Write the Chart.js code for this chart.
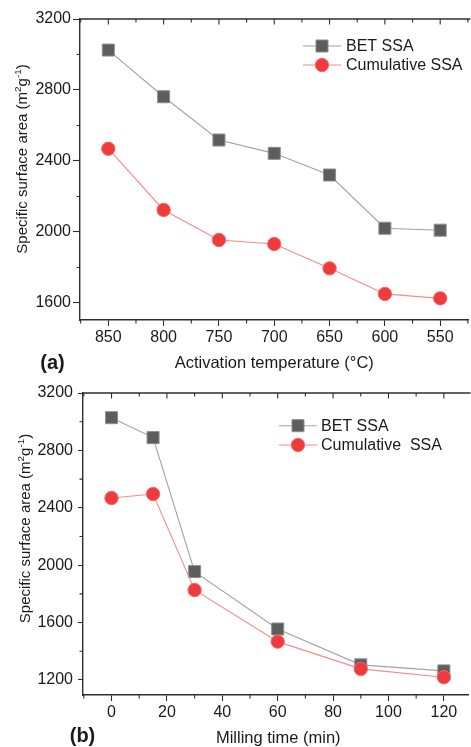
<!DOCTYPE html>
<html>
<head>
<meta charset="utf-8">
<script src="https://cdn.jsdelivr.net/npm/chart.js@4.4.0/dist/chart.umd.min.js"></script>
<style>
html,body{margin:0;padding:0;background:#fff;overflow:hidden;width:471px;height:747px;}
.wrap{position:absolute;left:0;width:478px;}
canvas{display:block;}
</style>
</head>
<body>
<div class="wrap" style="top:0;height:375px"><canvas id="ca" width="478" height="375"></canvas></div>
<div class="wrap" style="top:375px;height:372px"><canvas id="cb" width="478" height="372"></canvas></div>
<script>
// ---- Data: panel (a) ----
const tempCategories = [850, 800, 750, 700, 650, 600, 550];
const betSSA_temp = [3025, 2762, 2518, 2443, 2321, 2021, 2010];
const cumSSA_temp = [2469, 2124, 1955, 1932, 1795, 1651, 1626];
const tempXTicks = [850, 800, 750, 700, 650, 600, 550];
const tempYTicks = [1600, 2000, 2400, 2800, 3200];

// ---- Data: panel (b) ----
const millTimes = [0, 15, 30, 60, 90, 120];
const betSSA_mill = [3028, 2889, 1955, 1555, 1305, 1263];
const cumSSA_mill = [2468, 2496, 1827, 1467, 1277, 1219];
const millXTicks = [0, 20, 40, 60, 80, 100, 120];
const millYTicks = [1200, 1600, 2000, 2400, 2800, 3200];

// ---- Text ----
const labelsA = ['BET SSA', 'Cumulative SSA'];
const labelsB = ['BET SSA', 'Cumulative  SSA'];
const xTitleA = 'Activation temperature (\u00B0C)';
const xTitleB = 'Milling time (min)';
const yTitleParts = [['Specific surface area (m', 0], ['2', 1], ['g', 0], ['-1', 1], [')', 0]];

const FONT = "'Liberation Sans', Arial, Helvetica, sans-serif";
const TEXT = '#1a1a1a';
const AXIS = '#2e2e2e';

const betStyle = {
  pointStyle: 'rect', pointRadius: 8.5, pointBackgroundColor: '#5d5d5d',
  pointBorderColor: '#8e8e8e', pointBorderWidth: 1,
  borderColor: '#a2a2a2', borderWidth: 1.1, order: 1
};
const cumStyle = {
  pointStyle: 'circle', pointRadius: 6.7, pointBackgroundColor: '#ef3b3d',
  pointBorderColor: '#f36a6a', pointBorderWidth: 1,
  borderColor: '#f58c85', borderWidth: 1.1, order: 0
};

function toPts(xs, ys) { return xs.map((x, i) => ({x: x, y: ys[i]})); }

const decor = {
  id: 'decor',
  afterDraw(chart, args, o) {
    const ctx = chart.ctx, a = chart.chartArea;
    const xs = chart.scales.x, ys = chart.scales.y;
    ctx.save();
    // top frame line
    ctx.strokeStyle = AXIS; ctx.lineWidth = 1.4;
    ctx.beginPath(); ctx.moveTo(a.left, a.top); ctx.lineTo(a.right + 2, a.top); ctx.stroke();
    // minor ticks and top inward ticks
    const minorVals = (s, step, majors) => {
      const out = []; const lo = Math.min(s.min, s.max), hi = Math.max(s.min, s.max);
      for (let v = Math.ceil(lo / step) * step; v <= hi; v += step) if (!majors.includes(v)) out.push(v);
      return out;
    };
    const xMinor = minorVals(xs, o.xMinor, o.xMajor);
    const yMinor = minorVals(ys, o.yMinor, o.yMajor);
    ctx.lineWidth = 1.1;
    ctx.beginPath();
    xMinor.forEach(v => {
      const p = xs.getPixelForValue(v);
      ctx.moveTo(p, a.bottom); ctx.lineTo(p, a.bottom + o.minorLen);
      ctx.moveTo(p, a.top); ctx.lineTo(p, a.top + o.minorLen);
    });
    o.xMajor.forEach(v => {
      const p = xs.getPixelForValue(v);
      ctx.moveTo(p, a.top); ctx.lineTo(p, a.top + o.majorLen);
    });
    yMinor.forEach(v => {
      const p = ys.getPixelForValue(v);
      ctx.moveTo(a.left, p); ctx.lineTo(a.left - o.minorLen, p);
    });
    ctx.stroke();

    // x axis title
    ctx.fillStyle = TEXT;
    ctx.font = '16.5px ' + FONT;
    ctx.textAlign = 'center'; ctx.textBaseline = 'middle';
    ctx.fillText(o.xTitle, (a.left + a.right) / 2 + o.xTitleDx, a.bottom + o.xTitleDy);

    // y axis title with superscripts
    const size = 15;
    ctx.save();
    ctx.translate(o.yTitleX, (a.top + a.bottom) / 2 + o.yTitleDy);
    ctx.rotate(-Math.PI / 2);
    ctx.textAlign = 'left'; ctx.textBaseline = 'alphabetic';
    let total = 0;
    yTitleParts.forEach(([t, s]) => { ctx.font = (s ? size * 0.66 : size) + 'px ' + FONT; total += ctx.measureText(t).width; });
    let tx = -total / 2; const base = size * 0.36;
    yTitleParts.forEach(([t, s]) => {
      ctx.font = (s ? size * 0.66 : size) + 'px ' + FONT;
      ctx.fillText(t, tx, s ? base - size * 0.42 : base);
      tx += ctx.measureText(t).width;
    });
    ctx.restore();

    // panel label
    ctx.font = 'bold 20px ' + FONT;
    ctx.textAlign = 'center'; ctx.textBaseline = 'middle';
    ctx.fillText(o.panel, o.panelX, o.panelY);

    // legend
    const L = o.legend;
    chart.data.datasets.forEach((ds, i) => {
      const y = L.y + i * L.gap;
      ctx.strokeStyle = ds.borderColor; ctx.lineWidth = ds.borderWidth;
      ctx.beginPath(); ctx.moveTo(L.x0, y); ctx.lineTo(L.x1, y); ctx.stroke();
      const mx = (L.x0 + L.x1) / 2;
      ctx.fillStyle = ds.pointBackgroundColor; ctx.strokeStyle = ds.pointBorderColor; ctx.lineWidth = ds.pointBorderWidth;
      Chart.helpers.drawPoint(ctx, {pointStyle: ds.pointStyle, radius: ds.pointRadius, borderWidth: ds.pointBorderWidth, rotation: 0}, mx, y);
      ctx.fillStyle = TEXT; ctx.font = '16px ' + FONT; ctx.textAlign = 'left'; ctx.textBaseline = 'middle';
      ctx.fillText(ds.label, L.tx, y + 1);
    });
    ctx.restore();
  }
};

function makeChart(id, cfg) {
  return new Chart(document.getElementById(id), {
    type: 'line',
    data: {
      datasets: [
        Object.assign({label: cfg.labels[0], data: toPts(cfg.xs, cfg.bet)}, betStyle),
        Object.assign({label: cfg.labels[1], data: toPts(cfg.xs, cfg.cum)}, cumStyle)
      ]
    },
    options: {
      responsive: false, animation: false, events: [],
      layout: {padding: {top: cfg.padTop, left: 0, right: 0, bottom: 0}},
      plugins: {
        legend: {display: false}, tooltip: {enabled: false},
        decor: {
          xMajor: cfg.xTicks, yMajor: cfg.yTicks, xMinor: cfg.xMinor, yMinor: cfg.yMinor,
          minorLen: 3.5, majorLen: 5.5,
          xTitle: cfg.xTitle, xTitleDx: cfg.xTitleDx, xTitleDy: 43,
          yTitleX: cfg.yTitleX, yTitleDy: cfg.yTitleDy,
          panel: cfg.panel, panelX: cfg.panelX, panelY: cfg.panelY,
          legend: cfg.legend
        }
      },
      scales: {
        x: {
          type: 'linear', reverse: cfg.reverse, min: cfg.xMin, max: cfg.xMax,
          afterBuildTicks: s => { s.ticks = cfg.xTicks.map(v => ({value: v})); },
          afterFit: s => { s.height = cfg.xHeight; },
          border: {display: true, color: AXIS, width: 1.4},
          grid: {display: true, drawOnChartArea: false, drawTicks: true, tickLength: 6, tickColor: AXIS, tickWidth: 1.1},
          ticks: {color: TEXT, font: {family: FONT, size: 16}, padding: 2, maxRotation: 0, autoSkip: false, callback: v => String(v)},
          title: {display: false}
        },
        y: {
          type: 'linear', min: cfg.yMin, max: cfg.yMax,
          afterBuildTicks: s => { s.ticks = cfg.yTicks.map(v => ({value: v})); },
          afterFit: s => { s.width = cfg.yWidth; },
          border: {display: true, color: AXIS, width: 1.4},
          grid: {display: true, drawOnChartArea: false, drawTicks: true, tickLength: cfg.yTickLen, tickColor: AXIS, tickWidth: 1.1},
          ticks: {color: TEXT, font: {family: FONT, size: 16}, padding: cfg.yPad, autoSkip: false, callback: v => String(v)},
          title: {display: false}
        }
      }
    },
    plugins: [decor]
  });
}

makeChart('ca', {
  xs: tempCategories, bet: betSSA_temp, cum: cumSSA_temp, labels: labelsA,
  xTicks: tempXTicks, yTicks: tempYTicks, xMinor: 25, yMinor: 200,
  reverse: true, xMin: 524.4, xMax: 875.6, yMin: 1504, yMax: 3200,
  padTop: 19, xHeight: 55, yWidth: 80, yTickLen: 7, yPad: 2,
  xTitle: xTitleA, xTitleDx: 0, yTitleX: 21.5, yTitleDy: -10.5,
  panel: '(a)', panelX: 52.5, panelY: 363,
  legend: {x0: 303, x1: 341, tx: 346, y: 46, gap: 19}
});

makeChart('cb', {
  xs: millTimes, bet: betSSA_mill, cum: cumSSA_mill, labels: labelsB,
  xTicks: millXTicks, yTicks: millYTicks, xMinor: 10, yMinor: 200,
  reverse: false, xMin: -10.3, xMax: 128.9, yMin: 1095, yMax: 3200,
  padTop: 18, xHeight: 52, yWidth: 83, yTickLen: 5, yPad: 5,
  xTitle: xTitleB, xTitleDx: 2.5, yTitleX: 24.5, yTitleDy: -15.5,
  panel: '(b)', panelX: 82.5, panelY: 361,
  legend: {x0: 279, x1: 317, tx: 321, y: 50.7, gap: 19.3}
});
</script>
</body>
</html>
